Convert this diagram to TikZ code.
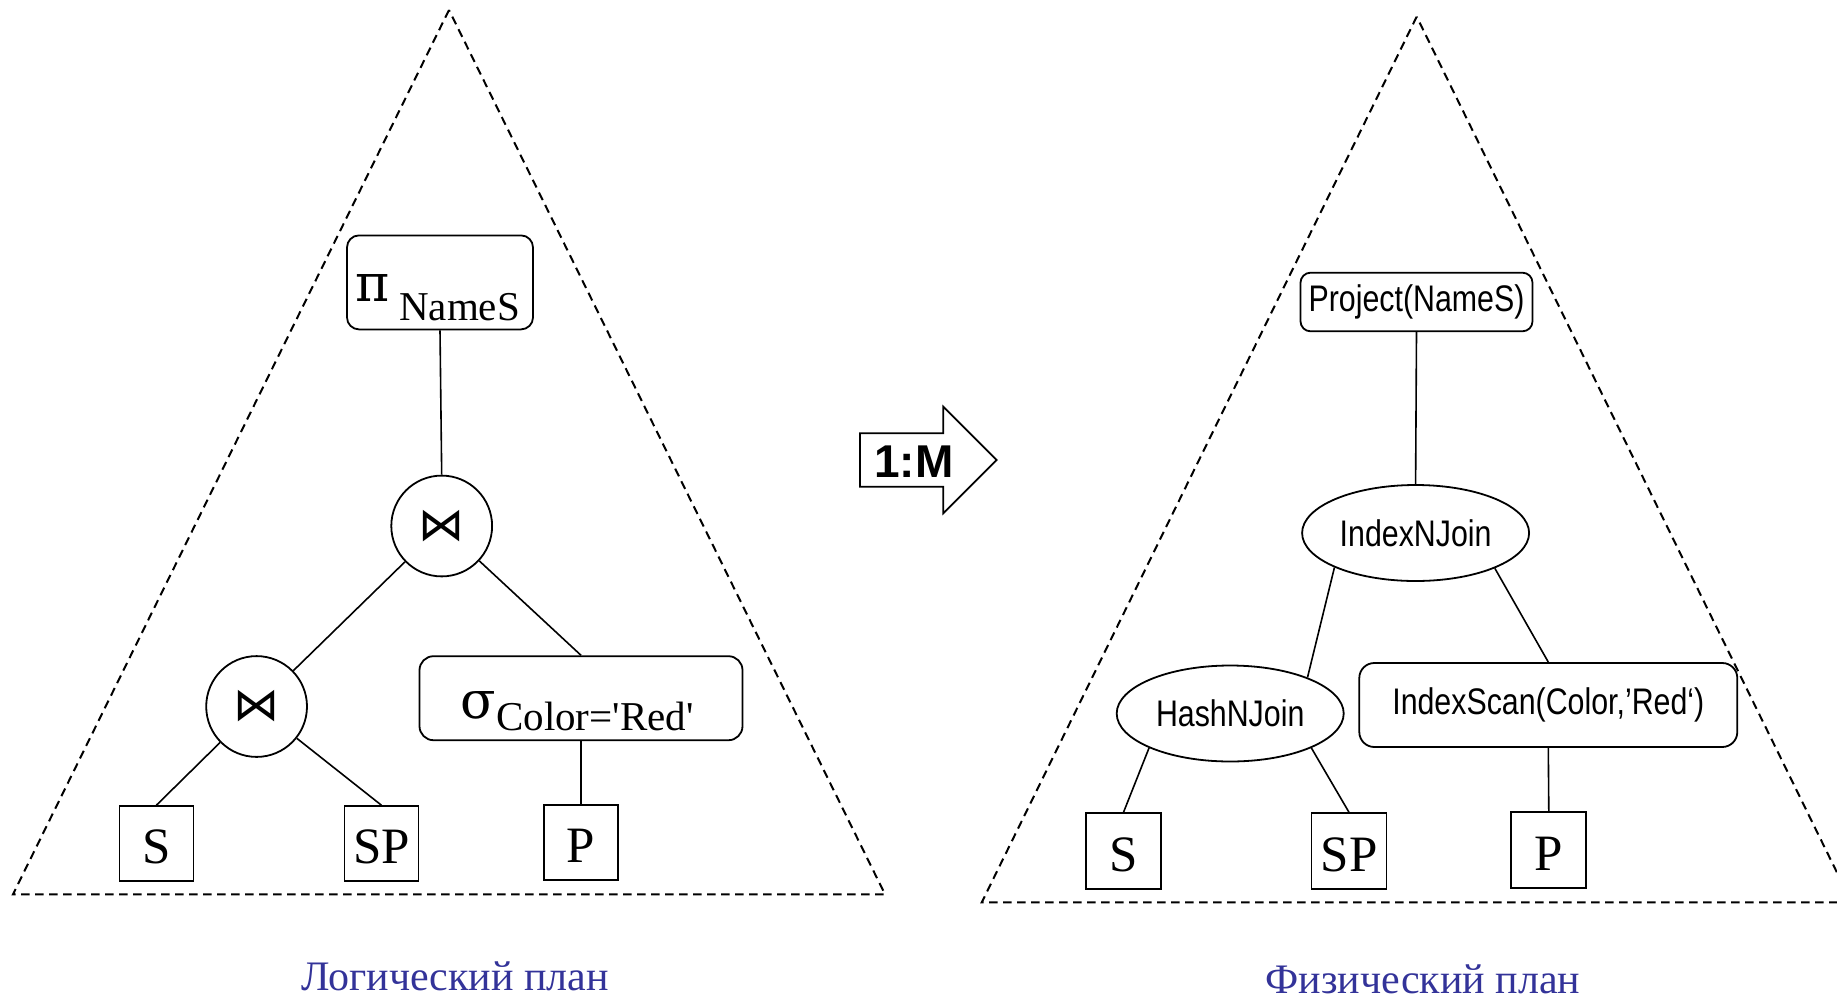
\documentclass[tikz,border=0pt]{standalone}
\usepackage{fontspec}
\setmainfont{Liberation Serif}
\newfontfamily\serifplain{Liberation Serif}
\newfontfamily\greekserif{DejaVu Serif}
\newfontfamily\narrowsans[FakeStretch=0.82]{Liberation Sans}
\newfontfamily\headsans{Liberation Sans}
\newfontfamily\opsymbols{DejaVu Sans}
\usetikzlibrary{shapes.geometric}
\definecolor{planblue}{RGB}{51,51,153}

\begin{document}
\begin{tikzpicture}[x=1pt,y=-1pt,
  edge/.style={line width=1.6pt},
  frame/.style={line width=2pt, dash pattern=on 8.5pt off 5.5pt},
  opbox/.style={draw, line width=1.8pt, rounded corners=12pt, inner sep=0pt},
  relbox/.style={draw, line width=1.8pt, minimum width=74pt, minimum height=75pt,
    inner sep=0pt, text height=40pt, text depth=0pt, font=\fontsize{51}{51}\selectfont},
  joinop/.style={draw, circle, line width=1.8pt, minimum size=100.8pt, inner sep=0pt,
    font=\opsymbols\fontsize{46}{46}\selectfont},
  physop/.style={draw, ellipse, line width=1.8pt, minimum width=227pt, minimum height=96pt,
    inner sep=0pt, font=\narrowsans\fontsize{37}{37}\selectfont},
  physbox/.style={opbox, font=\narrowsans\fontsize{37}{37}\selectfont},
  greek/.style={anchor=base west, inner sep=0pt, font=\greekserif\fontsize{52}{52}\selectfont},
  subtext/.style={anchor=base west, inner sep=0pt, font=\serifplain\fontsize{41}{41}\selectfont},
  caption/.style={anchor=base, inner sep=0pt, text=planblue, font=\fontsize{42}{42}\selectfont}
]
\useasboundingbox (0,0) rectangle (1837,1002);
\clip (0,0) rectangle (1837,1002);

% dashed plan frames
\draw[frame] (449,10) -- (13,894.3) -- (885,894.3) -- cycle;
\draw[frame] (1416.7,16.7) -- (981.8,902.3) -- (1851.6,902.3) -- cycle;

% ---------- logical plan ----------
\node[opbox, minimum width=186pt, minimum height=94pt] (proj) at (440,282.4) {};
\node[greek] (projpi) at (355,301.7) {π};
\node[subtext] (projsub) at (399,320) {NameS};

\node[joinop] (join1) at (441.7,526) {⋈};
\node[joinop] (join2) at (256.6,706.5) {⋈};

\node[opbox, rounded corners=14pt, minimum width=323pt, minimum height=84pt] (sel) at (581,698.2) {};
\node[greek] (selsigma) at (460,718) {σ};
\node[subtext] (selsub) at (496,730) {Color='Red'};

\node[relbox] (S1) at (156.4,843.6) {S};
\node[relbox] (SP1) at (381.4,843.6) {SP};
\node[relbox] (P1) at (581,842.6) {P};

\draw[edge] (proj.south) -- (join1.north);
\draw[edge] (join1) -- (join2);
\draw[edge] (join1) -- (sel.north);
\draw[edge] (join2) -- (S1.north);
\draw[edge] (join2) -- (SP1.north);
\draw[edge] (sel.south) -- (P1.north);

% ---------- mapping arrow ----------
\draw[line width=1.8pt, line join=miter]
  (860,433.3) -- (943.3,433.3) -- (943.3,406.7) -- (996.7,460)
  -- (943.3,513.3) -- (943.3,486.7) -- (860,486.7) -- cycle;
\node[inner sep=0pt, font=\headsans\bfseries\fontsize{46}{46}\selectfont] (ratio) at (914,461.7) {1:M};

% ---------- physical plan ----------
\node[physbox, rounded corners=10pt, minimum width=232pt, minimum height=58.6pt] (project) at (1416.5,302) {Project(NameS)};
\node[physop] (inlj) at (1415.6,533) {IndexNJoin};
\node[physop] (hnj) at (1230.2,713.5) {HashNJoin};
\node[physbox, rounded corners=15pt, minimum width=378pt, minimum height=84pt] (iscan) at (1548.3,705) {IndexScan(Color,’Red‘)};

\node[relbox, minimum width=75pt, minimum height=76pt] (S2) at (1123.5,851.2) {S};
\node[relbox, minimum width=75pt, minimum height=76pt] (SP2) at (1349,851.2) {SP};
\node[relbox, minimum width=75pt, minimum height=76pt] (P2) at (1548.8,850) {P};

\draw[edge] (project.south) -- (inlj.north);
\draw[edge] (inlj.203) -- (hnj.25);
\draw[edge] (inlj.336) -- (iscan.north);
\draw[edge] (hnj.203) -- (S2.north);
\draw[edge] (hnj.337) -- (SP2.north);
\draw[edge] (iscan.south) -- (P2.north);

% ---------- captions ----------
\node[caption] (lcap) at (455,990) {Логический план};
\node[caption] (pcap) at (1423,993) {Физический план};
\end{tikzpicture}
\end{document}
